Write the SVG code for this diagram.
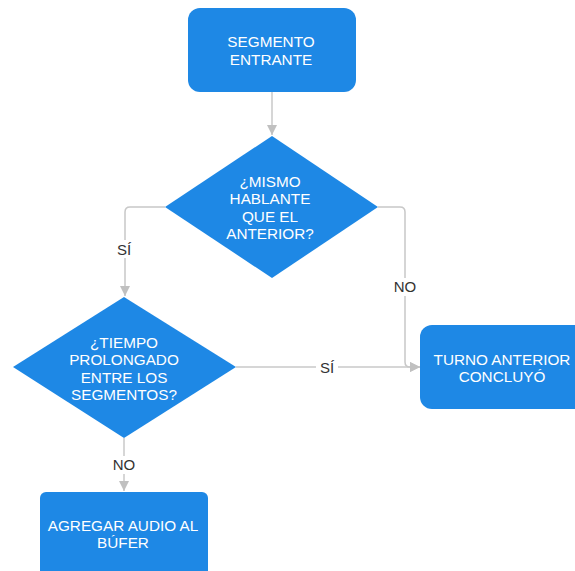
<svg xmlns="http://www.w3.org/2000/svg" width="575" height="571" viewBox="0 0 575 571">
<style>
.node{fill:#1e88e5;}
.nt{font-family:"Liberation Sans",Arial,sans-serif;font-size:15.3px;fill:#ffffff;text-anchor:middle;}
.edge{fill:none;stroke:#c8c8c8;stroke-width:1.5;}
.lbl{font-family:"Liberation Sans",Arial,sans-serif;font-size:15px;fill:#333333;text-anchor:middle;}
.lblbg{fill:#ffffff;}
</style>
<defs>
<marker id="arr" viewBox="0 0 10 10" refX="10" refY="5" markerWidth="10" markerHeight="10" markerUnits="userSpaceOnUse" orient="auto">
<path d="M0,0 L10,5 L0,10 z" fill="#c0c0c0"/>
</marker>
</defs>
<rect width="575" height="571" fill="#ffffff"/>
<g id="connectors">
<path class="edge" d="M272,92 L272,135" marker-end="url(#arr)"/>
<path class="edge" d="M165,207 L130,207 Q125,207 125,212 L125,296" marker-end="url(#arr)"/>
<path class="edge" d="M378,207 L400,207 Q405,207 405,212 L405,362 Q405,367 410,367 L420,367" marker-end="url(#arr)"/>
<path class="edge" d="M236,367 L420,367" marker-end="url(#arr)"/>
<path class="edge" d="M124,438 L124,491" marker-end="url(#arr)"/>
<rect class="lblbg" x="113" y="240" width="22" height="18"/>
<text class="lbl" x="124" y="255">SÍ</text>
<rect class="lblbg" x="391" y="278" width="28" height="18"/>
<text class="lbl" x="405" y="292">NO</text>
<rect class="lblbg" x="316" y="358" width="22" height="18"/>
<text class="lbl" x="327" y="373">SÍ</text>
<rect class="lblbg" x="110" y="456" width="28" height="18"/>
<text class="lbl" x="124" y="470">NO</text>
</g>
<g id="n1">
<rect class="node" x="188" y="8" width="168" height="84" rx="12"/>
<text class="nt" x="271" y="47">SEGMENTO</text>
<text class="nt" x="271" y="64.5">ENTRANTE</text>
</g>
<g id="d1">
<polygon class="node" points="272,136 378,207 272,278 165,207"/>
<text class="nt" x="270" y="186.5">¿MISMO</text>
<text class="nt" x="270" y="204">HABLANTE</text>
<text class="nt" x="270" y="221.5">QUE EL</text>
<text class="nt" x="270" y="239">ANTERIOR?</text>
</g>
<g id="d2">
<polygon class="node" points="124,297 236,367 124,438 13,367"/>
<text class="nt" x="124" y="347.5">¿TIEMPO</text>
<text class="nt" x="124" y="365">PROLONGADO</text>
<text class="nt" x="124" y="382.5">ENTRE LOS</text>
<text class="nt" x="124" y="400">SEGMENTOS?</text>
</g>
<g id="n2">
<rect class="node" x="420" y="325" width="168" height="84" rx="12"/>
<text class="nt" x="502" y="364.5">TURNO ANTERIOR</text>
<text class="nt" x="502" y="382">CONCLUYÓ</text>
</g>
<g id="n3">
<rect class="node" x="40" y="492" width="168" height="84" rx="6"/>
<text class="nt" x="123" y="530.5">AGREGAR AUDIO AL</text>
<text class="nt" x="123" y="548">BÚFER</text>
</g>
</svg>
